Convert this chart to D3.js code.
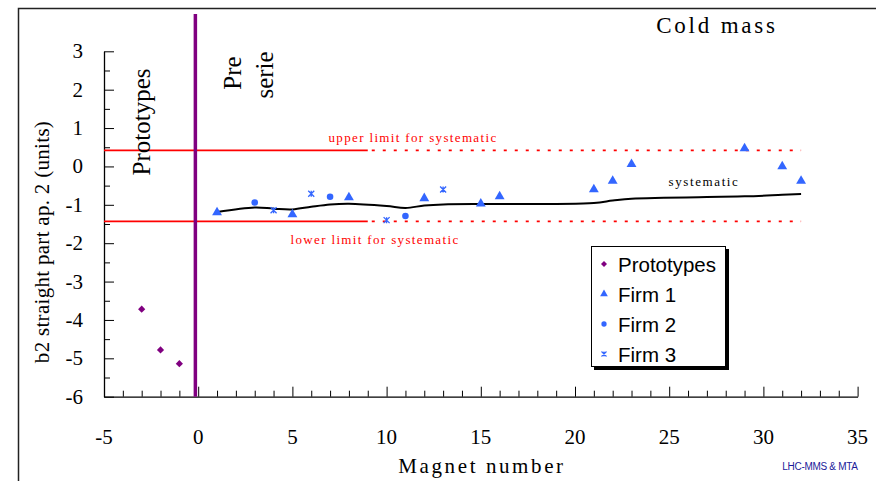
<!DOCTYPE html>
<html>
<head>
<meta charset="utf-8">
<script src="https://cdn.jsdelivr.net/npm/d3@7"></script>
<style>
  body { margin: 0; background: #fff; }
  svg { display: block; }
  .serif { font-family: 'Liberation Serif', 'Times New Roman', Times, serif; }
  .sans { font-family: 'Liberation Sans', Arial, Helvetica, sans-serif; }
</style>
</head>
<body>
<div id="chart"></div>
<script>
// magnet number / b2 values
const prototypesX = [-3, -2, -1];
const prototypesY = [-3.72, -4.78, -5.14];

const firm1X = [1, 5, 8, 12, 15, 16, 21, 22, 23, 29, 31, 32];
const firm1Y = [-1.2, -1.25, -0.81, -0.83, -0.97, -0.78, -0.6, -0.38, 0.06, 0.47, 0.0, -0.38];

const firm2X = [3, 7, 11];
const firm2Y = [-0.94, -0.79, -1.29];

const firm3X = [4, 6, 10, 13];
const firm3Y = [-1.14, -0.71, -1.4, -0.6];

const systX = [1, 3, 4, 5, 6, 7, 8, 10, 11, 12, 13, 15, 16, 21, 22, 23, 29, 31, 32];
const systY = [-1.19, -1.07, -1.1, -1.12, -1.05, -0.99, -0.97, -1.03, -1.08, -1.02, -0.99, -0.98, -0.98, -0.95, -0.89, -0.84, -0.78, -0.74, -0.72];

const upperLimit = 0.42;
const lowerLimit = -1.43;
const limitSolidEnd = 9;
const limitDotEnd = 32;
const splitX = -0.15;

const xTicks = [-5, 0, 5, 10, 15, 20, 25, 30, 35];
const yTicks = [3, 2, 1, 0, -1, -2, -3, -4, -5, -6];

const legendNames = ['Prototypes', 'Firm 1', 'Firm 2', 'Firm 3'];

const width = 876;
const height = 481;
const purple = '#800080';
const blue = '#3366ff';

const svg = d3.select('#chart')
  .append('svg')
  .attr('width', width)
  .attr('height', height);

// outer frame (runs off the picture on right and bottom)
svg.append('rect')
  .attr('x', 18.5).attr('y', 8.5)
  .attr('width', 900).attr('height', 500)
  .attr('fill', 'none').attr('stroke', '#222').attr('stroke-width', 1.5);

const x = d3.scaleLinear().domain([-5, 35]).range([104, 857.6]);
const y = d3.scaleLinear().domain([-6, 3]).range([396.7, 51.3]);

// axes
const xAxis = svg.append('g')
  .attr('transform', `translate(0,${y(-6)})`)
  .call(d3.axisBottom(x).tickValues(d3.range(-5, 36, 1)).tickSize(0).tickFormat(''));
xAxis.selectAll('.tick line')
  .attr('y2', d => d % 5 === 0 ? -10 : -6)
  .attr('stroke', '#000');
xAxis.select('.domain').attr('stroke', '#000').attr('stroke-width', 1.3);

svg.append('g')
  .selectAll('text')
  .data(xTicks)
  .enter()
  .append('text')
  .attr('class', 'serif')
  .attr('x', d => x(d))
  .attr('y', 444)
  .attr('text-anchor', 'middle')
  .attr('font-size', 21)
  .text(d => d);

const yAxis = svg.append('g')
  .attr('transform', `translate(${x(-5)},0)`)
  .call(d3.axisLeft(y).tickValues(d3.range(-6, 3.01, 0.5)).tickSize(0).tickFormat(''));
yAxis.selectAll('.tick line')
  .attr('x2', d => Number.isInteger(d) ? 10 : 6)
  .attr('stroke', '#000');
yAxis.select('.domain').attr('stroke', '#000').attr('stroke-width', 1.3);

svg.append('g')
  .selectAll('text')
  .data(yTicks)
  .enter()
  .append('text')
  .attr('class', 'serif')
  .attr('x', 83)
  .attr('y', d => y(d) + 7)
  .attr('text-anchor', 'end')
  .attr('font-size', 21)
  .text(d => d);

// axis titles
svg.append('text')
  .attr('class', 'serif')
  .attr('transform', `translate(49,242) rotate(-90)`)
  .attr('text-anchor', 'middle')
  .attr('font-size', 21)
  .attr('letter-spacing', 0.3)
  .text('b2 straight part ap. 2 (units)');

svg.append('text')
  .attr('class', 'serif')
  .attr('x', 482).attr('y', 473)
  .attr('text-anchor', 'middle')
  .attr('font-size', 21)
  .attr('letter-spacing', 2.6)
  .text('Magnet number');

svg.append('text')
  .attr('class', 'sans')
  .attr('x', 820).attr('y', 470)
  .attr('text-anchor', 'middle')
  .attr('font-size', 10)
  .attr('fill', '#1a1a99')
  .attr('letter-spacing', -0.3)
  .text('LHC-MMS & MTA');

svg.append('text')
  .attr('class', 'serif')
  .attr('x', 717).attr('y', 33)
  .attr('text-anchor', 'middle')
  .attr('font-size', 23)
  .attr('letter-spacing', 2.8)
  .text('Cold mass');

// limit lines
[upperLimit, lowerLimit].forEach(v => {
  svg.append('line')
    .attr('x1', x(-5)).attr('x2', x(limitSolidEnd))
    .attr('y1', y(v)).attr('y2', y(v))
    .attr('stroke', '#ff0000').attr('stroke-width', 1.8);
  svg.append('line')
    .attr('x1', x(limitSolidEnd) + 4).attr('x2', x(limitDotEnd))
    .attr('y1', y(v)).attr('y2', y(v))
    .attr('stroke', '#ff0000').attr('stroke-width', 1.8)
    .attr('stroke-dasharray', '3,8');
});

svg.append('text')
  .attr('class', 'serif')
  .attr('x', 413).attr('y', 142)
  .attr('text-anchor', 'middle')
  .attr('font-size', 13)
  .attr('fill', '#ff0000')
  .attr('letter-spacing', 1.35)
  .text('upper limit for systematic');

svg.append('text')
  .attr('class', 'serif')
  .attr('x', 375).attr('y', 244)
  .attr('text-anchor', 'middle')
  .attr('font-size', 13)
  .attr('fill', '#ff0000')
  .attr('letter-spacing', 1.35)
  .text('lower limit for systematic');

// purple separator between prototypes and pre serie
svg.append('line')
  .attr('x1', x(splitX)).attr('x2', x(splitX))
  .attr('y1', 14).attr('y2', y(-6))
  .attr('stroke', purple).attr('stroke-width', 3.5);

svg.append('text')
  .attr('class', 'serif')
  .attr('transform', `translate(150,122) rotate(-90)`)
  .attr('text-anchor', 'middle')
  .attr('font-size', 25)
  .text('Prototypes');

svg.append('text')
  .attr('class', 'serif')
  .attr('transform', `translate(241,73) rotate(-90)`)
  .attr('text-anchor', 'middle')
  .attr('font-size', 25)
  .text('Pre');

svg.append('text')
  .attr('class', 'serif')
  .attr('transform', `translate(273,75) rotate(-90)`)
  .attr('text-anchor', 'middle')
  .attr('font-size', 25)
  .text('serie');

// systematic curve
const systData = systX.map((d, i) => [d, systY[i]]);
svg.append('path')
  .datum(systData)
  .attr('d', d3.line().x(d => x(d[0])).y(d => y(d[1])).curve(d3.curveCatmullRom.alpha(0.5)))
  .attr('fill', 'none')
  .attr('stroke', '#000')
  .attr('stroke-width', 2);

svg.append('text')
  .attr('class', 'serif')
  .attr('x', 704).attr('y', 186)
  .attr('text-anchor', 'middle')
  .attr('font-size', 13)
  .attr('letter-spacing', 1.6)
  .text('systematic');

// markers
function diamondPath(r) {
  return `M0,${-r}L${r},0L0,${r}L${-r},0Z`;
}
function starPath(r) {
  return `M${-r},${-r}L${r},${r}M${-r},${r}L${r},${-r}M0,${-r}L0,${r}`;
}
const diamond = () => diamondPath(3.6);
const triangle = d3.symbol().type(d3.symbolTriangle).size(42);
const circle = d3.symbol().type(d3.symbolCircle).size(34);
const star = () => starPath(3);

function drawSeries(xs, ys, sym, color, isStroke) {
  svg.append('g')
    .selectAll('path')
    .data(xs.map((d, i) => [d, ys[i]]))
    .enter()
    .append('path')
    .attr('transform', d => `translate(${x(d[0])},${y(d[1])})`)
    .attr('d', sym)
    .attr('fill', isStroke ? 'none' : color)
    .attr('stroke', isStroke ? color : 'none')
    .attr('stroke-width', 1.3);
}

drawSeries(prototypesX, prototypesY, diamond, purple, false);
drawSeries(firm1X, firm1Y, triangle, blue, false);
drawSeries(firm2X, firm2Y, circle, blue, false);
drawSeries(firm3X, firm3Y, star, blue, true);

// legend
const legend = svg.append('g').attr('transform', 'translate(591,246)');
legend.append('rect')
  .attr('x', 3).attr('y', 3).attr('width', 135).attr('height', 121)
  .attr('fill', '#000');
legend.append('rect')
  .attr('x', 0.5).attr('y', 0.5).attr('width', 134).attr('height', 120)
  .attr('fill', '#fff').attr('stroke', '#000');

const legendSyms = [
  { sym: () => diamondPath(3), color: purple, stroke: false },
  { sym: d3.symbol().type(d3.symbolTriangle).size(26), color: blue, stroke: false },
  { sym: d3.symbol().type(d3.symbolCircle).size(22), color: blue, stroke: false },
  { sym: () => starPath(2.5), color: blue, stroke: true }
];

const rows = legend.selectAll('g.row')
  .data(legendNames)
  .enter()
  .append('g')
  .attr('class', 'row')
  .attr('transform', (d, i) => `translate(0,${18 + i * 30})`);

rows.append('path')
  .attr('transform', 'translate(13,0)')
  .attr('d', (d, i) => legendSyms[i].sym())
  .attr('fill', (d, i) => legendSyms[i].stroke ? 'none' : legendSyms[i].color)
  .attr('stroke', (d, i) => legendSyms[i].stroke ? legendSyms[i].color : 'none')
  .attr('stroke-width', 1.1);

rows.append('text')
  .attr('class', 'sans')
  .attr('x', 27)
  .attr('y', 7.5)
  .attr('font-size', 20.5)
  .text(d => d);
</script>
</body>
</html>
